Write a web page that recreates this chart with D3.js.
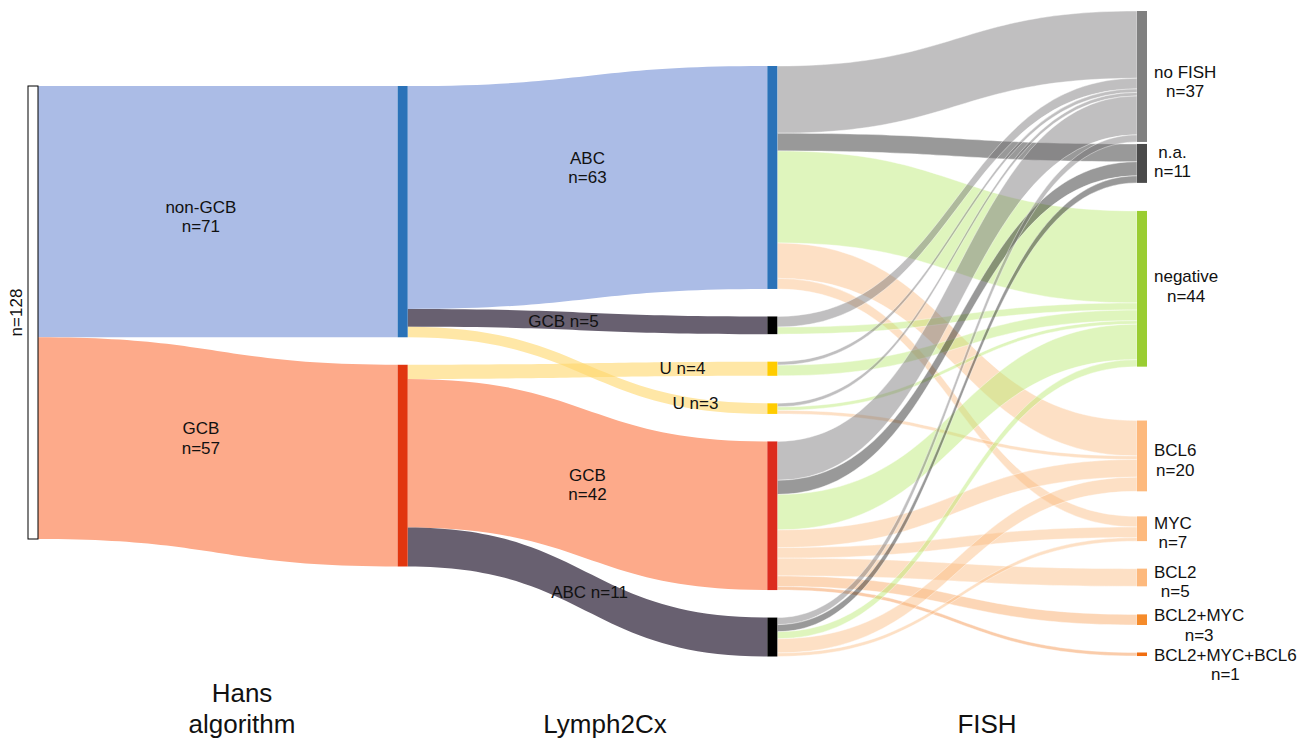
<!DOCTYPE html>
<html><head><meta charset="utf-8">
<script src="https://cdn.jsdelivr.net/npm/d3@7"></script>
<style>
body{margin:0;background:#fff}
text{font-family:"Liberation Sans",Arial,Helvetica,sans-serif;fill:#111}
</style>
</head><body>
<svg id="chart" width="1314" height="740"></svg>
<script>
// ---------------- DATA ----------------
const total = 128;
const hansCategories = ["non-GCB", "GCB"];
const hansCounts = [71, 57];
const lymphCategories = ["ABC", "GCB", "U", "U", "GCB", "ABC"];
const lymphCounts = [63, 5, 4, 3, 42, 11];
const fishCategories = ["no FISH", "n.a.", "negative", "BCL6", "MYC", "BCL2", "BCL2+MYC", "BCL2+MYC+BCL6"];
const fishCounts = [37, 11, 44, 20, 7, 5, 3, 1];
// Hans -> Lymph2Cx flows: [hans index, lymph index, n]
const hansToLymph = [[0, 0, 63], [0, 1, 5], [0, 3, 3], [1, 2, 4], [1, 4, 42], [1, 5, 11]];
// Lymph2Cx -> FISH: rows follow lymphCategories, columns follow fishCategories
const lymphToFish = [
  [19, 5, 26, 10, 3, 0, 0, 0],
  [3, 0, 2, 0, 0, 0, 0, 0],
  [1, 0, 3, 0, 0, 0, 0, 0],
  [1, 0, 1, 1, 0, 0, 0, 0],
  [11, 4, 10, 5, 3, 5, 3, 1],
  [2, 2, 2, 4, 1, 0, 0, 0]
];
const axisTitles = ["Hans\nalgorithm", "Lymph2Cx", "FISH"];

// ---------------- LAYOUT / STYLE CONFIG ----------------
const nodeWidth = 10;
const pad = 27.5;
const layerTop = [86, 86, 66, 11];
const gapFactor = [[0], [0, 1], [0, 1, 1, 1, 1, 1], [0, 0.073, 1.02, 1.96, 0.91, 1, 1.02, 1]];
const titleX = [242, 605, 987];
const titleBaseline = 733, titleLine = 31;

const hansFill = ["#2a72b8", "#e1360f"];
const lymphFill = ["#2a72b8", "#000000", "#ffcc00", "#ffcc00", "#dc2c1e", "#000000"];
const fishFill = ["#808080", "#4a4a4a", "#9acd32", "#fdb97d", "#fdb97d", "#fdb97d", "#f58b2b", "#f06d10"];
const hansLinkColor = ["#abbce6", "#fdaa8a"];
const lymphLinkColor = ["#abbce6", "#686070", "#ffd76b", "#ffd76b", "#fdaa8a", "#686070"];
const lymphLinkOpacity = [1, 1, 0.6, 0.6, 1, 1];
const fishLinkColor = ["#737173", "#1c1c1c", "#b8e96c", "#fbba7e", "#fbba7e", "#fbba7e", "#f9a45e", "#f58f42"];
const fishLinkOpacity = 0.45;
const fishLabelShift = [1.5, -5.5, -6.3, 0.5, 0, 0.5, 1.8, 6.5];
// label offsets (from link centre) for links into Hans / Lymph2Cx nodes
const hansLabel = [{dx: -17, dy: 1, inline: false}, {dx: -17, dy: -17.5, inline: false}];
const lymphLabel = [
  {dx: 0, dy: -23.5, inline: false},
  {dx: -24, dy: 5, inline: true},
  {dx: 95, dy: 4, inline: true},
  {dx: 108, dy: 39, inline: true},
  {dx: 0, dy: -3.7, inline: false},
  {dx: 2, dy: 6.4, inline: true}
];

// ---------------- SCALES ----------------
const xLayer = d3.scaleLinear().domain([0, 3]).range([28, 1137]);
const k = d3.scaleLinear().domain([0, total]).range([0, 453]);

// ---------------- BUILD GRAPH ----------------
const nodes = [];
function addNode(layer, idx, name, value) {
  const n = {layer, idx, name, value, x0: xLayer(layer), x1: xLayer(layer) + nodeWidth, out: [], inc: []};
  nodes.push(n); return n;
}
const root = addNode(0, 0, "", total);
const hansNodes = hansCategories.map((c, i) => addNode(1, i, c, hansCounts[i]));
const lymphNodes = lymphCategories.map((c, i) => addNode(2, i, c, lymphCounts[i]));
const fishNodes = fishCategories.map((c, i) => addNode(3, i, c, fishCounts[i]));
const layers = [[root], hansNodes, lymphNodes, fishNodes];

layers.forEach((ln, li) => {
  let y = layerTop[li];
  ln.forEach((n, i) => {
    y += gapFactor[li][i] * pad;
    n.y0 = y; n.y1 = y + k(n.value); y = n.y1;
  });
});

const links = [];
function addLink(s, t, v, color, opacity, group) {
  if (!v) return;
  const l = {source: s, target: t, value: v, color, opacity, group};
  s.out.push(l); t.inc.push(l); links.push(l);
}
hansNodes.forEach((h, i) => addLink(root, h, hansCounts[i], hansLinkColor[i], 1, 0));
hansToLymph.forEach(([s, t, v]) => addLink(hansNodes[s], lymphNodes[t], v, lymphLinkColor[t], lymphLinkOpacity[t], 1));
lymphToFish.forEach((row, s) => row.forEach((v, t) => addLink(lymphNodes[s], fishNodes[t], v, fishLinkColor[t], fishLinkOpacity, 2)));

nodes.forEach(n => {
  n.out.sort((a, b) => a.target.y0 - b.target.y0);
  n.inc.sort((a, b) => a.source.y0 - b.source.y0);
  let y = n.y0;
  n.out.forEach(l => { l.sy0 = y; y += k(l.value); l.sy1 = y; });
  y = n.y0;
  n.inc.forEach(l => { l.ty0 = y; y += k(l.value); l.ty1 = y; });
});

function bandPath(l) {
  const p = d3.path();
  const x0 = l.source.x1, x1 = l.target.x0, xm = (x0 + x1) / 2;
  p.moveTo(x0, l.sy0);
  p.bezierCurveTo(xm, l.sy0, xm, l.ty0, x1, l.ty0);
  p.lineTo(x1, l.ty1);
  p.bezierCurveTo(xm, l.ty1, xm, l.sy1, x0, l.sy1);
  p.closePath();
  return p.toString();
}

// ---------------- DRAW ----------------
const svg = d3.select("#chart");

svg.append("g").selectAll("path").data(links).join("path")
  .attr("d", bandPath)
  .attr("fill", d => d.color)
  .attr("fill-opacity", d => d.opacity)
  .attr("stroke", "#fff")
  .attr("stroke-width", d => d.group === 2 ? 0.6 : 0)
  .attr("stroke-opacity", 0.7);

svg.append("g").selectAll("rect").data(nodes).join("rect")
  .attr("x", d => d.x0).attr("y", d => d.y0)
  .attr("width", nodeWidth).attr("height", d => d.y1 - d.y0)
  .attr("fill", d => d.layer === 0 ? "#fff" : d.layer === 1 ? hansFill[d.idx] : d.layer === 2 ? lymphFill[d.idx] : fishFill[d.idx])
  .attr("stroke", d => d.layer === 0 ? "#000" : "none")
  .attr("stroke-width", 1);

// root label
svg.append("text")
  .attr("transform", `translate(${root.x0 - 6},${(root.y0 + root.y1) / 2}) rotate(-90)`)
  .attr("text-anchor", "middle")
  .attr("font-size", 17)
  .text("n=" + total);

// link labels for Hans and Lymph2Cx
const lab = svg.append("g").attr("font-size", 17).attr("text-anchor", "middle");
function linkLabel(l, cfg, name) {
  const cx = (l.source.x1 + l.target.x0) / 2 + cfg.dx;
  const cy = (l.sy0 + l.sy1 + l.ty0 + l.ty1) / 4 + cfg.dy;
  const t = lab.append("text").attr("x", cx).attr("y", cy);
  if (cfg.inline) {
    t.text(name + " n=" + l.value);
  } else {
    t.append("tspan").attr("x", cx).attr("y", cy).text(name);
    t.append("tspan").attr("x", cx).attr("y", cy + 19.5).text("n=" + l.value);
  }
}
hansNodes.forEach((h, i) => linkLabel(h.inc[0], hansLabel[i], h.name));
lymphNodes.forEach((n, i) => linkLabel(n.inc[0], lymphLabel[i], n.name));

// FISH labels
const fl = svg.append("g").attr("font-size", 17).attr("text-anchor", "middle");
fishNodes.forEach((n, i) => {
  const by = (n.y0 + n.y1) / 2 + fishLabelShift[i];
  const t = fl.append("text");
  t.append("tspan").attr("x", 0).attr("y", by).text(n.name);
  t.append("tspan").attr("x", 0).attr("y", by + 19.5).text("n=" + n.value);
  const w = t.node().getBBox().width;
  const cx = n.x1 + 7 + w / 2;
  t.selectAll("tspan").attr("x", cx);
});

// column titles
const tg = svg.append("g").attr("font-size", 26).attr("text-anchor", "middle");
axisTitles.forEach((s, i) => {
  const lines = s.split("\n");
  const t = tg.append("text");
  lines.forEach((line, j) => {
    t.append("tspan").attr("x", titleX[i])
      .attr("y", titleBaseline - (lines.length - 1 - j) * titleLine).text(line);
  });
});
</script>
</body></html>
